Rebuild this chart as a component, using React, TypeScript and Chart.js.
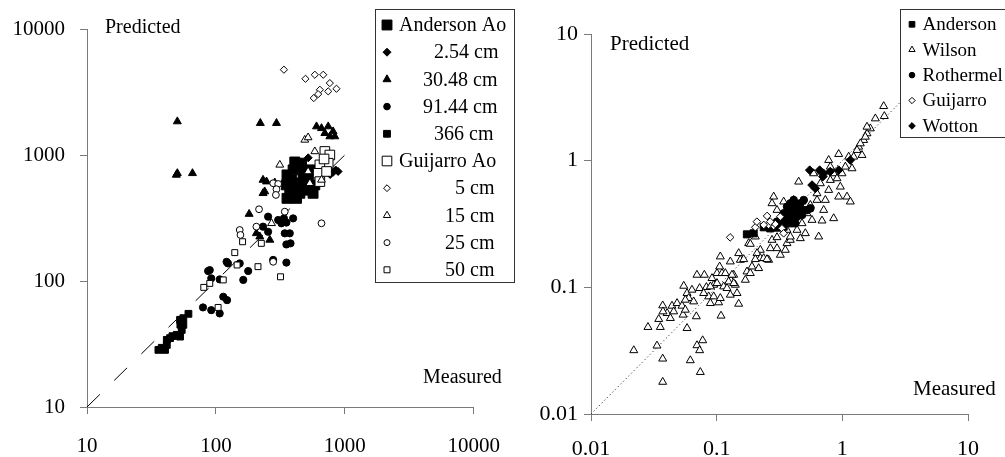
import React, { useEffect, useRef } from 'react';
import { Chart, registerables } from 'chart.js';

Chart.register(...registerables);

const FONT = "'Liberation Serif', 'Times New Roman', Times, serif";
const AXIS = '#7a7a7a';

// ---------------- Left chart data ----------------
const leftTicks = [10, 100, 1000, 10000];
const leftTickLabels = ['10', '100', '1000', '10000'];
const leftOneToOne = [[10, 10], [1260, 1260]];
const leftSeriesNames = ['Anderson Ao', '2.54 cm', '30.48 cm', '91.44 cm', '366 cm', 'Guijarro Ao', '5 cm', '15 cm', '25 cm', '50 cm'];

const andersonAo = [[356, 695], [385, 634], [374, 513], [356, 453], [409, 561], [434, 809], [461, 861], [475, 716], [504, 615], [448, 497], [489, 528], [535, 528], [567, 497], [585, 579], [397, 762], [551, 762], [352, 579], [422, 453], [409, 880], [520, 680], [460, 600], [380, 590]];
const anderson254 = [[887, 740], [811, 730], [743, 750], [680, 720], [621, 735], [850, 760], [770, 700], [450, 880], [520, 950]];
const anderson3048 = [[50.2, 1845], [50.2, 716], [49.3, 695], [65.8, 716], [221, 1790], [295, 1790], [603, 1683], [659, 1630], [743, 1683], [700, 1489], [811, 1537], [765, 1403], [836, 1403], [232, 634], [247, 615], [239, 513], [232, 497], [181, 340], [206, 239], [219, 225], [262, 212], [286, 604]];
const anderson9144 = [[254, 324], [304, 305], [337, 314], [397, 314], [232, 270], [254, 246], [322, 287], [352, 291], [342, 239], [374, 239], [352, 195], [379, 199], [278, 147], [352, 140], [178, 120], [163, 102], [153, 138], [124, 138], [121, 142], [89.6, 122], [87, 120], [92, 105], [107, 103], [114, 75], [122, 70.5], [79.4, 61.7], [92, 58.7], [107, 55.3]];
const anderson366 = [[35.8, 28.4], [40.3, 28.4], [41.6, 31.1], [41.6, 34.1], [44.1, 35.2], [49.7, 37.4], [52.7, 36.2], [54.3, 40.9], [55.9, 44.9], [52.7, 49.2], [55.9, 50.7], [61.2, 54.9], [38, 29.5], [46, 36.5], [53, 45]];
const guijarroAo = [[700, 1067], [765, 1000], [743, 861], [640, 835], [621, 716], [722, 740], [640, 615], [690, 930]];
const guijarro5 = [[337, 4753], [495, 4027], [585, 4334], [680, 4334], [765, 3722], [861, 3357], [743, 3200], [640, 3296], [574, 2830], [621, 3043]];
const guijarro15 = [[313, 835], [489, 1318], [519, 1377], [585, 1067], [659, 634], [535, 597], [270, 287], [519, 740]];
const guijarro25 = [[216, 371], [153, 254], [155, 232], [206, 270], [342, 355], [278, 142], [659, 287], [278, 597], [304, 589], [295, 535], [292, 482]];
const guijarro50 = [[161, 205], [140, 168], [225, 199], [146, 134], [114, 102], [89.6, 95.7], [80.5, 89], [212, 130], [317, 108], [104, 61.7]];

// ---------------- Right chart data ----------------
const rightTicks = [0.01, 0.1, 1, 10];
const rightTickLabels = ['0.01', '0.1', '1', '10'];
const rightOneToOne = [[0.01, 0.01], [10, 10]];
const rightSeriesNames = ['Anderson', 'Wilson', 'Rothermel', 'Guijarro', 'Wotton'];

const anderson = [[0.174, 0.262], [0.197, 0.267], [0.237, 0.298], [0.267, 0.292], [0.302, 0.296], [0.341, 0.301], [0.386, 0.32], [0.41, 0.34]];
const wilson = [
  [0.0219, 0.0318], [0.0284, 0.0485], [0.0335, 0.0346], [0.0356, 0.0485], [0.0372, 0.0273], [0.0372, 0.0179], [0.0617, 0.0265], [0.0697, 0.0348], [0.0732, 0.0318], [0.0774, 0.0381], [0.0741, 0.0214], [0.0581, 0.0476], [0.0689, 0.0589],
  [0.0346, 0.0561], [0.0372, 0.0718], [0.0403, 0.0625], [0.0428, 0.0571], [0.0441, 0.0714], [0.0484, 0.0749], [0.053, 0.0714], [0.054, 0.0607], [0.0547, 0.1026], [0.0581, 0.0899], [0.0599, 0.0821], [0.0563, 0.0796], [0.0636, 0.0955], [0.0656, 0.0772], [0.0732, 0.0984], [0.0697, 0.1253], [0.0798, 0.1253], [0.0828, 0.1002], [0.0864, 0.0846], [0.0891, 0.0749], [0.0788, 0.0899], [0.0563, 0.0664], [0.0455, 0.0644], [0.0374, 0.0644],
  [0.0947, 0.1045], [0.1006, 0.1292], [0.1069, 0.1748], [0.1103, 0.1292], [0.1137, 0.1014], [0.1037, 0.0759], [0.1083, 0.0596], [0.1209, 0.0984], [0.1284, 0.1596], [0.1284, 0.1158], [0.1366, 0.1253], [0.1408, 0.1045], [0.1497, 0.1857], [0.1497, 0.074], [0.1543, 0.1645], [0.1056, 0.1457], [0.1172, 0.1292], [0.1324, 0.1253], [0.1246, 0.111], [0.1366, 0.1077], [0.1452, 0.0899], [0.0947, 0.0846], [0.1069, 0.0821], [0.1284, 0.0872], [0.0891, 0.1014], [0.1006, 0.1077], [0.0918, 0.118],
  [0.1691, 0.1144], [0.1743, 0.1331], [0.1853, 0.1292], [0.191, 0.1457], [0.1797, 0.2226], [0.2031, 0.2512], [0.2159, 0.1414], [0.2226, 0.1972], [0.2094, 0.1857], [0.2226, 0.1696], [0.2366, 0.1696], [0.2593, 0.1645], [0.2673, 0.2032], [0.2756, 0.2364], [0.3021, 0.2032], [0.3211, 0.1802], [0.3519, 0.1972], [0.3628, 0.2226], [0.3021, 0.2482], [0.3857, 0.2364], [0.4633, 0.2437], [0.5077, 0.2669], [0.6483, 0.2512], [0.2515, 0.1665], [0.2031, 0.1665], [0.164, 0.1665], [0.1853, 0.2199], [0.3857, 0.2512],
  [0.2842, 0.5192], [0.2756, 0.46], [0.3413, 0.4743], [0.4494, 0.6815], [0.3021, 0.4074], [0.3311, 0.3399], [0.3628, 0.2835], [0.4227, 0.4074], [0.41, 0.4887], [0.3857, 0.3612], [0.4359, 0.2835], [0.4776, 0.32], [0.4776, 0.4743], [0.5235, 0.3836], [0.5565, 0.4462], [0.5738, 0.3399], [0.6288, 0.4887], [0.5916, 0.7927], [0.6684, 0.6612], [0.6891, 0.3358], [0.6684, 0.8174],
  [0.7324, 0.4887], [0.7786, 0.5859], [0.8027, 0.7025], [0.8531, 0.7927], [0.8531, 0.3504], [0.935, 0.5192], [0.964, 0.6223], [1.089, 0.5192], [1.158, 0.4743], [0.935, 1.126], [1.057, 0.8948], [1.194, 0.8681], [0.8027, 0.8948], [0.7786, 1.0097], [0.9071, 0.724], [1.123, 1.073], [1.231, 1.073], [0.9938, 0.7927], [0.7105, 0.4074], [0.6288, 0.5514],
  [1.434, 1.106], [1.349, 1.286], [1.478, 1.452], [1.571, 1.639], [1.671, 1.794], [1.571, 1.849], [1.831, 2.15], [2.133, 2.69], [2.159, 2.243], [1.309, 1.211], [1.524, 1.542], [1.391, 1.366],
];
const rothermel = [[0.341, 0.384], [0.363, 0.433], [0.386, 0.46], [0.41, 0.489], [0.436, 0.446], [0.463, 0.46], [0.493, 0.407], [0.524, 0.407], [0.557, 0.42], [0.363, 0.35], [0.398, 0.361], [0.436, 0.361], [0.478, 0.372], [0.386, 0.33], [0.423, 0.32], [0.341, 0.34], [0.449, 0.407], [0.41, 0.407], [0.374, 0.384], [0.493, 0.489], [0.321, 0.34], [0.302, 0.33]];
const guijarro = [[0.128, 0.248], [0.203, 0.298], [0.209, 0.33], [0.252, 0.366], [0.284, 0.305], [0.259, 0.311], [0.293, 0.316], [0.331, 0.292], [0.267, 0.33], [0.321, 0.361], [0.237, 0.311], [0.341, 0.267]];
const wotton = [[0.55, 0.842], [0.66, 0.842], [0.711, 0.793], [0.574, 0.642], [0.61, 0.604], [0.935, 0.842], [1.158, 1.01], [0.7, 0.748], [0.8, 0.82], [0.45, 0.45], [0.4, 0.42]];

// ---------------- helpers ----------------
type Pt = number[];
const toXY = (a: Pt[]) => a.map(([x, y]) => ({ x, y }));

function drawMarker(ctx: CanvasRenderingContext2D, style: string, x: number, y: number, r: number, filled: boolean) {
  ctx.save();
  ctx.beginPath();
  if (style === 'rect') {
    const s = r * Math.SQRT1_2;
    ctx.rect(x - s, y - s, 2 * s, 2 * s);
  } else if (style === 'rectRot') {
    ctx.moveTo(x - r, y);
    ctx.lineTo(x, y - r);
    ctx.lineTo(x + r, y);
    ctx.lineTo(x, y + r);
    ctx.closePath();
  } else if (style === 'triangle') {
    const s = Math.sin((2 * Math.PI) / 3) * r;
    ctx.moveTo(x, y - r);
    ctx.lineTo(x + s, y + r / 2);
    ctx.lineTo(x - s, y + r / 2);
    ctx.closePath();
  } else {
    ctx.arc(x, y, r, 0, Math.PI * 2);
  }
  ctx.fillStyle = filled ? '#000' : '#fff';
  ctx.fill();
  ctx.strokeStyle = '#000';
  ctx.lineWidth = 1;
  ctx.stroke();
  ctx.restore();
}

type LegendItem = { text: string; style: string; r: number; filled: boolean; textX: number };
type LegendCfg = { x: number; y: number; w: number; h: number; rowTop: number; rowGap: number; markerX: number; fontSize: number; items: LegendItem[] };

function boxLegend(cfg: LegendCfg) {
  return {
    id: 'boxLegend',
    afterDraw(chart: any) {
      const ctx: CanvasRenderingContext2D = chart.ctx;
      ctx.save();
      ctx.fillStyle = '#fff';
      ctx.fillRect(cfg.x, cfg.y, cfg.w, cfg.h);
      ctx.strokeStyle = '#333';
      ctx.lineWidth = 1;
      ctx.strokeRect(cfg.x + 0.5, cfg.y + 0.5, cfg.w, cfg.h);
      ctx.font = `${cfg.fontSize}px ${FONT}`;
      ctx.textBaseline = 'middle';
      ctx.textAlign = 'left';
      cfg.items.forEach((it, i) => {
        const cy = cfg.rowTop + i * cfg.rowGap;
        drawMarker(ctx, it.style, cfg.markerX, cy, it.r, it.filled);
        ctx.fillStyle = '#000';
        ctx.fillText(it.text, it.textX, cy + 1);
      });
      ctx.restore();
    },
  };
}

function cornerText(items: { text: string; x: number; y: number; size: number }[]) {
  return {
    id: 'cornerText',
    afterDraw(chart: any) {
      const ctx: CanvasRenderingContext2D = chart.ctx;
      ctx.save();
      ctx.fillStyle = '#000';
      ctx.textBaseline = 'alphabetic';
      ctx.textAlign = 'left';
      items.forEach((t) => {
        ctx.font = `${t.size}px ${FONT}`;
        ctx.fillText(t.text, t.x, t.y);
      });
      ctx.restore();
    },
  };
}

function logAxis(axis: 'x' | 'y', ticks: number[], labels: string[], size: number, pad: number, fit: number) {
  return {
    type: 'logarithmic',
    min: ticks[0],
    max: ticks[ticks.length - 1],
    afterBuildTicks: (s: any) => {
      s.ticks = ticks.map((v) => ({ value: v }));
    },
    afterFit: (s: any) => {
      if (axis === 'x') s.height = fit;
      else s.width = fit;
    },
    ticks: {
      callback: (v: number) => {
        const i = ticks.indexOf(v);
        return i >= 0 ? labels[i] : '';
      },
      font: { family: FONT, size },
      color: '#000',
      padding: pad,
      autoSkip: false,
      maxRotation: 0,
      minRotation: 0,
    },
    grid: { drawOnChartArea: false, drawTicks: true, tickLength: 7, color: AXIS, tickColor: AXIS, lineWidth: 1 },
    border: { display: true, color: AXIS, width: 1 },
  };
}

function series(label: string, data: Pt[], style: string, r: number, filled: boolean) {
  return {
    label,
    data: toXY(data),
    pointStyle: style,
    pointRadius: r,
    backgroundColor: filled ? '#000' : '#fff',
    borderColor: '#000',
    borderWidth: 1,
    showLine: false,
  };
}

function refLine(data: Pt[], dash: number[], color: string) {
  return {
    label: 'ref',
    data: toXY(data),
    showLine: true,
    pointRadius: 0,
    borderColor: color,
    borderWidth: 1,
    borderDash: dash,
    fill: false,
  };
}

export default function App() {
  const leftRef = useRef<HTMLCanvasElement | null>(null);
  const rightRef = useRef<HTMLCanvasElement | null>(null);

  useEffect(() => {
    const L = leftSeriesNames;
    const leftChart = new Chart(leftRef.current as HTMLCanvasElement, {
      type: 'scatter',
      data: {
        datasets: [
          series(L[7], guijarro15, 'triangle', 4.5, false),
          series(L[8], guijarro25, 'circle', 3.4, false),
          series(L[9], guijarro50, 'rect', 4.2, false),
          series(L[6], guijarro5, 'rectRot', 3.6, false),
          series(L[5], guijarroAo, 'rect', 6.8, false),
          series(L[1], anderson254, 'rectRot', 4, true),
          series(L[2], anderson3048, 'triangle', 4.6, true),
          series(L[3], anderson9144, 'circle', 3.6, true),
          series(L[0], andersonAo, 'rect', 7, true),
          series(L[4], anderson366, 'rect', 4.8, true),
          refLine(leftOneToOne, [18, 20], '#000'),
        ] as any,
      },
      options: {
        responsive: false,
        animation: false,
        events: [],
        layout: { padding: { left: 0, right: 46, top: 29, bottom: 0 } },
        plugins: { legend: { display: false }, tooltip: { enabled: false }, title: { display: false } },
        scales: {
          x: logAxis('x', leftTicks, leftTickLabels, 21, 20, 50) as any,
          y: logAxis('y', leftTicks, leftTickLabels, 21, 15, 87) as any,
        },
      },
      plugins: [
        cornerText([
          { text: 'Predicted', x: 105, y: 33, size: 20 },
          { text: 'Measured', x: 423, y: 383, size: 20 },
        ]),
        boxLegend({
          x: 375, y: 9, w: 139, h: 273, rowTop: 25, rowGap: 27.2, markerX: 387, fontSize: 20,
          items: [
            { text: L[0], style: 'rect', r: 7, filled: true, textX: 399 },
            { text: L[1], style: 'rectRot', r: 4, filled: true, textX: 434 },
            { text: L[2], style: 'triangle', r: 4.6, filled: true, textX: 423 },
            { text: L[3], style: 'circle', r: 3.3, filled: true, textX: 423 },
            { text: L[4], style: 'rect', r: 4.8, filled: true, textX: 434 },
            { text: L[5], style: 'rect', r: 6.8, filled: false, textX: 399 },
            { text: L[6], style: 'rectRot', r: 3.4, filled: false, textX: 455 },
            { text: L[7], style: 'triangle', r: 4.2, filled: false, textX: 445 },
            { text: L[8], style: 'circle', r: 3, filled: false, textX: 445 },
            { text: L[9], style: 'rect', r: 4.2, filled: false, textX: 445 },
          ],
        }),
      ] as any,
    } as any);

    const R = rightSeriesNames;
    const rightChart = new Chart(rightRef.current as HTMLCanvasElement, {
      type: 'scatter',
      data: {
        datasets: [
          series(R[3], guijarro, 'rectRot', 3.8, false),
          series(R[4], wotton, 'rectRot', 4.3, true),
          series(R[2], rothermel, 'circle', 3.8, true),
          series(R[0], anderson, 'rect', 5, true),
          series(R[1], wilson, 'triangle', 4.6, false),
          refLine(rightOneToOne, [1.2, 2.6], '#333'),
        ] as any,
      },
      options: {
        responsive: false,
        animation: false,
        events: [],
        layout: { padding: { left: 0, right: 37, top: 34, bottom: 0 } },
        plugins: { legend: { display: false }, tooltip: { enabled: false }, title: { display: false } },
        scales: {
          x: logAxis('x', rightTicks, rightTickLabels, 22, 15, 43) as any,
          y: logAxis('y', rightTicks, rightTickLabels, 22, 6, 71) as any,
        },
      },
      plugins: [
        cornerText([
          { text: 'Predicted', x: 90, y: 49.5, size: 21 },
          { text: 'Measured', x: 393, y: 394.5, size: 21 },
        ]),
        boxLegend({
          x: 380, y: 9, w: 110, h: 128, rowTop: 24.3, rowGap: 25.4, markerX: 392, fontSize: 19,
          items: [
            { text: R[0], style: 'rect', r: 4, filled: true, textX: 402.5 },
            { text: R[1], style: 'triangle', r: 3.6, filled: false, textX: 402.5 },
            { text: R[2], style: 'circle', r: 2.8, filled: true, textX: 402.5 },
            { text: R[3], style: 'rectRot', r: 3.2, filled: false, textX: 402.5 },
            { text: R[4], style: 'rectRot', r: 3.3, filled: true, textX: 402.5 },
          ],
        }),
      ] as any,
    } as any);

    return () => {
      leftChart.destroy();
      rightChart.destroy();
    };
  }, []);

  return (
    <div style={{ position: 'absolute', left: 0, top: 0, width: 1005, height: 457, background: '#fff', overflow: 'hidden' }}>
      <canvas ref={leftRef} width={520} height={457} style={{ position: 'absolute', left: 0, top: 0 }} />
      <canvas ref={rightRef} width={485} height={457} style={{ position: 'absolute', left: 520, top: 0 }} />
    </div>
  );
}
